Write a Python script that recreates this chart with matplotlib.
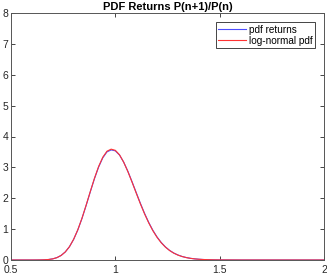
import matplotlib
matplotlib.use("Agg")
import matplotlib.pyplot as plt

plt.rcParams['font.family'] = ['Liberation Sans', 'DejaVu Sans']

title = "PDF Returns P(n+1)/P(n)"
labels = ["pdf returns", "log-normal pdf"]

x = [0.50, 0.60, 0.62, 0.64, 0.66, 0.68, 0.70, 0.72, 0.74, 0.76, 0.78, 0.80, 0.82, 0.84,
     0.86, 0.88, 0.90, 0.92, 0.94, 0.96, 0.98, 1.00, 1.02, 1.04, 1.06, 1.08,
     1.10, 1.12, 1.14, 1.16, 1.18, 1.20, 1.22, 1.24, 1.26, 1.28, 1.30, 1.32,
     1.34, 1.36, 1.38, 1.40, 1.42, 1.44, 1.46, 1.48, 1.50, 1.60, 2.00]

lognormal_pdf = [0.0, 0.0001, 0.0008, 0.0024, 0.0065, 0.0162, 0.0368, 0.0764, 0.146, 0.260, 0.430,
                 0.669, 0.977, 1.351, 1.775, 2.219, 2.649, 3.031, 3.331, 3.525,
                 3.590, 3.552, 3.408, 3.168, 2.865, 2.523, 2.168, 1.820, 1.494,
                 1.202, 0.947, 0.733, 0.557, 0.417, 0.306, 0.222, 0.159, 0.112,
                 0.078, 0.053, 0.036, 0.024, 0.016, 0.011, 0.007, 0.0045, 0.0029, 0.0003, 0.0]

pdf_returns = [0.0, 0.0001, 0.0008, 0.0025, 0.0067, 0.0165, 0.0372, 0.0770, 0.147, 0.260, 0.429,
               0.665, 0.970, 1.342, 1.764, 2.206, 2.633, 3.012, 3.310, 3.502,
               3.565, 3.535, 3.400, 3.170, 2.875, 2.538, 2.186, 1.838, 1.512,
               1.218, 0.961, 0.745, 0.567, 0.424, 0.312, 0.226, 0.162, 0.114,
               0.080, 0.055, 0.037, 0.025, 0.017, 0.011, 0.007, 0.0046, 0.0030, 0.0003, 0.0]

fig = plt.figure(figsize=(3.27, 2.74), dpi=100)
ax = fig.add_axes([11/327, 14/274, 313/327, 247/274])

ax.plot(x, pdf_returns, color='#4d4dff', lw=0.8, label=labels[0])
ax.plot(x, lognormal_pdf, color='#ff3333', lw=0.8, label=labels[1])

ax.set_xlim(0.5, 2)
ax.set_ylim(0, 8)
ax.set_xticks([0.5, 1, 1.5, 2])
ax.set_xticklabels(["0.5", "1", "1.5", "2"])
ax.set_yticks(range(0, 9))
ax.tick_params(direction='in', length=3, width=0.6, colors='#262626',
               labelsize=7.5, top=True, right=True, pad=2)
ax.tick_params(axis='x', pad=3.5)
for sp in ax.spines.values():
    sp.set_color('#555555')
    sp.set_linewidth(0.7)

ax.set_title(title, fontsize=8, fontweight='bold', pad=2)

leg = ax.legend(loc='upper right', bbox_to_anchor=(0.972, 0.963), fontsize=7.2,
                frameon=True, fancybox=False, framealpha=1, edgecolor='#262626',
                handlelength=2.8, handletextpad=0.25, borderpad=0.25, labelspacing=0.1,
                borderaxespad=0)
leg.get_frame().set_linewidth(0.6)

fig.savefig("out.png", dpi=100)
